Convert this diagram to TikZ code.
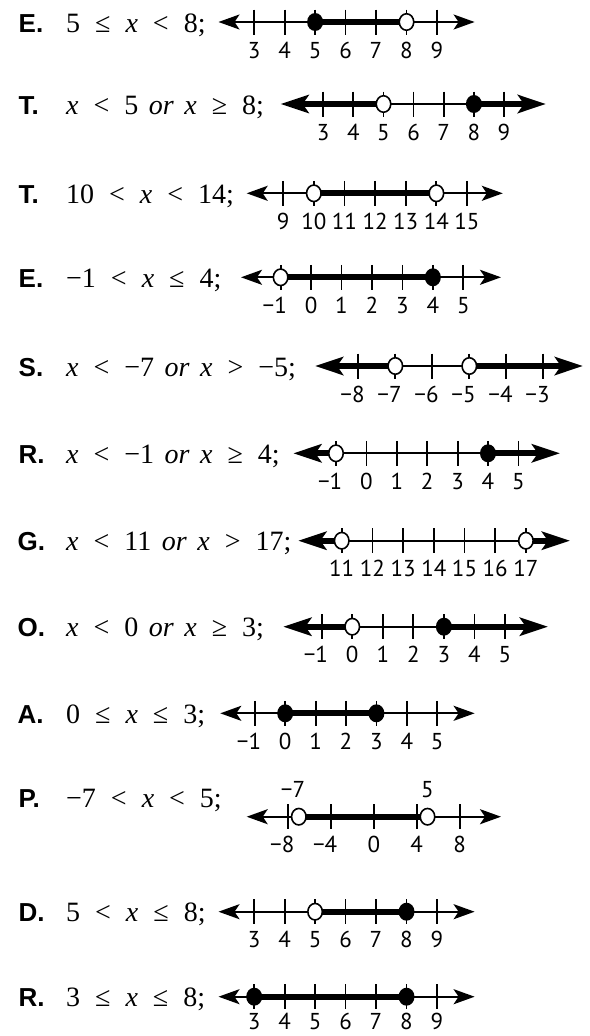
\documentclass[tikz,border=0pt]{standalone}
\usepackage{fontspec}
\setmainfont{Liberation Serif}
\newfontfamily\lblfont{Liberation Sans}
\newfontfamily\numfont{PT Sans}
\usetikzlibrary{arrows.meta,shapes.geometric}
\newcommand\gapA{\hspace{15pt}}
\newcommand\gapB{\hspace{10.5pt}}
\newcommand\mn[1]{\llap{−}#1}
\newcommand\drawticks[6]{%
  \foreach \lab [count=\k from 0] in {#4} {
    \draw[tickmark] ({#2+#3*\k},{#1-12.5}) -- ({#2+#3*\k},{#1+12.5});
    \node[ticklbl] (t#5-\k) at ({#2+#3*\k},{#1+#6}) {\lab};
  }}
\tikzset{
  letter/.style={anchor=base west, inner sep=0pt, font=\lblfont\bfseries\fontsize{26}{26}\selectfont},
  ineq/.style={anchor=base west, inner sep=0pt, font=\fontsize{28}{28}\selectfont},
  ticklbl/.style={anchor=base, inner sep=0pt, text depth=0pt, font=\numfont\fontsize{23}{23}\selectfont},
  tickmark/.style={line width=1.8pt},
  thinline/.style={line width=2pt},
  thickline/.style={line width=6pt},
  thinTip/.tip={Stealth[length=21pt,width=15pt,inset=5pt]},
  fatTip/.tip={Stealth[length=28pt,width=18pt,inset=6pt]},
  closeddot/.style={shape=ellipse, fill=black, inner sep=0pt, minimum width=16pt, minimum height=18pt},
  opendot/.style={shape=ellipse, fill=white, draw=black, line width=1.6pt, inner sep=0pt, minimum width=14.5pt, minimum height=16.5pt}
}
\begin{document}
\begin{tikzpicture}[x=1pt,y=-1pt]
\useasboundingbox (0,0) rectangle (589,1036);

% ---------- Row 1: E ----------
\node[letter] (l1) at (18.5,32) {E.};
\node[ineq] (q1) at (66,32) {5\gapA≤\gapA\textit{x}\gapA<\gapA8;};
\coordinate (r1L) at (218.5,22); \coordinate (r1R) at (474.6,22);
\coordinate (r1a) at (315.1,22); \coordinate (r1b) at (406.5,22);
\draw[thinline, thinTip-thinTip] (r1L) -- (r1R);
\drawticks{22}{254.2}{30.45}{3,4,5,6,7,8,9}{1}{36}
\draw[thickline] (r1a) -- (r1b);
\node[closeddot] (d1a) at (r1a) {};
\node[opendot] (d1b) at (r1b) {};

% ---------- Row 2: T ----------
\node[letter] (l2) at (18.5,114) {T.};
\node[ineq] (q2) at (66,114) {\textit{x}\gapA<\gapA5\gapB\textit{or}\gapB\textit{x}\gapA≥\gapA8;};
\coordinate (r2L) at (280.6,104); \coordinate (r2R) at (546,104);
\coordinate (r2a) at (383.5,104); \coordinate (r2b) at (473.9,104);
\draw[thinline] (r2a) -- (r2b);
\drawticks{104}{323.2}{30.13}{3,4,5,6,7,8,9}{2}{36}
\draw[thickline, -fatTip] (r2a) -- (r2L);
\draw[thickline, -fatTip] (r2b) -- (r2R);
\node[opendot] (d2a) at (r2a) {};
\node[closeddot] (d2b) at (r2b) {};

% ---------- Row 3: T ----------
\node[letter] (l3) at (18.5,203.3) {T.};
\node[ineq] (q3) at (66,203.3) {10\gapA<\gapA\textit{x}\gapA<\gapA14;};
\coordinate (r3L) at (246.7,193.3); \coordinate (r3R) at (502.8,193.3);
\coordinate (r3a) at (313.8,193.3); \coordinate (r3b) at (436.4,193.3);
\draw[thinline, thinTip-thinTip] (r3L) -- (r3R);
\drawticks{193.3}{283.2}{30.63}{9,10,11,12,13,14,15}{3}{36}
\draw[thickline] (r3a) -- (r3b);
\node[opendot] (d3a) at (r3a) {};
\node[opendot] (d3b) at (r3b) {};

% ---------- Row 4: E ----------
\node[letter] (l4) at (18.5,287.3) {E.};
\node[ineq] (q4) at (66,287.3) {−1\gapA<\gapA\textit{x}\gapA≤\gapA4;};
\coordinate (r4L) at (241,277.3); \coordinate (r4R) at (501,277.3);
\coordinate (r4a) at (280.6,277.3); \coordinate (r4b) at (432.85,277.3);
\draw[thinline, thinTip-thinTip] (r4L) -- (r4R);
\drawticks{277.3}{280.6}{30.45}{{\mn{1}},0,1,2,3,4,5}{4}{36}
\draw[thickline] (r4a) -- (r4b);
\node[opendot] (d4a) at (r4a) {};
\node[closeddot] (d4b) at (r4b) {};

% ---------- Row 5: S ----------
\node[letter] (l5) at (18.5,376) {S.};
\node[ineq] (q5) at (66,376) {\textit{x}\gapA<\gapA−7\gapB\textit{or}\gapB\textit{x}\gapA>\gapA−5;};
\coordinate (r5L) at (315,366); \coordinate (r5R) at (583,366);
\coordinate (r5a) at (395.3,366); \coordinate (r5b) at (469.3,366);
\draw[thinline] (r5a) -- (r5b);
\drawticks{366}{358.3}{37}{{\mn{8}},{\mn{7}},{\mn{6}},{\mn{5}},{\mn{4}},{\mn{3}}}{5}{36}
\draw[thickline, -fatTip] (r5a) -- (r5L);
\draw[thickline, -fatTip] (r5b) -- (r5R);
\node[opendot] (d5a) at (r5a) {};
\node[opendot] (d5b) at (r5b) {};

% ---------- Row 6: R ----------
\node[letter] (l6) at (18.5,463.3) {R.};
\node[ineq] (q6) at (66,463.3) {\textit{x}\gapA<\gapA−1\gapB\textit{or}\gapB\textit{x}\gapA≥\gapA4;};
\coordinate (r6L) at (293.3,453.3); \coordinate (r6R) at (560,453.3);
\coordinate (r6a) at (336,453.3); \coordinate (r6b) at (488,453.3);
\draw[thinline] (r6a) -- (r6b);
\drawticks{453.3}{336}{30.4}{{\mn{1}},0,1,2,3,4,5}{6}{36}
\draw[thickline, -fatTip] (r6a) -- (r6L);
\draw[thickline, -fatTip] (r6b) -- (r6R);
\node[opendot] (d6a) at (r6a) {};
\node[closeddot] (d6b) at (r6b) {};

% ---------- Row 7: G ----------
\node[letter] (l7) at (17.5,550.7) {G.};
\node[ineq] (q7) at (66,550.7) {\textit{x}\gapA<\gapA11\gapB\textit{or}\gapB\textit{x}\gapA>\gapA17;};
\coordinate (r7L) at (298.3,540.7); \coordinate (r7R) at (570,540.7);
\coordinate (r7a) at (341.7,540.7); \coordinate (r7b) at (525.9,540.7);
\draw[thinline] (r7a) -- (r7b);
\drawticks{540.7}{341.7}{30.7}{11,12,13,14,15,16,17}{7}{36}
\draw[thickline, -fatTip] (r7a) -- (r7L);
\draw[thickline, -fatTip] (r7b) -- (r7R);
\node[opendot] (d7a) at (r7a) {};
\node[opendot] (d7b) at (r7b) {};

% ---------- Row 8: O ----------
\node[letter] (l8) at (17.5,636.7) {O.};
\node[ineq] (q8) at (66,636.7) {\textit{x}\gapA<\gapA0\gapB\textit{or}\gapB\textit{x}\gapA≥\gapA3;};
\coordinate (r8L) at (283.3,626.7); \coordinate (r8R) at (548,626.7);
\coordinate (r8a) at (352.25,626.7); \coordinate (r8b) at (443.9,626.7);
\draw[thinline] (r8a) -- (r8b);
\drawticks{626.7}{321.7}{30.55}{{\mn{1}},0,1,2,3,4,5}{8}{36}
\draw[thickline, -fatTip] (r8a) -- (r8L);
\draw[thickline, -fatTip] (r8b) -- (r8R);
\node[opendot] (d8a) at (r8a) {};
\node[closeddot] (d8b) at (r8b) {};

% ---------- Row 9: A ----------
\node[letter] (l9) at (17.5,723.3) {A.};
\node[ineq] (q9) at (66,723.3) {0\gapA≤\gapA\textit{x}\gapA≤\gapA3;};
\coordinate (r9L) at (220.3,713.3); \coordinate (r9R) at (474.6,713.3);
\coordinate (r9a) at (285.2,713.3); \coordinate (r9b) at (376.4,713.3);
\draw[thinline, thinTip-thinTip] (r9L) -- (r9R);
\drawticks{713.3}{254.8}{30.4}{{\mn{1}},0,1,2,3,4,5}{9}{36}
\draw[thickline] (r9a) -- (r9b);
\node[closeddot] (d9a) at (r9a) {};
\node[closeddot] (d9b) at (r9b) {};

% ---------- Row 10: P ----------
\node[letter] (l10) at (18.5,807.7) {P.};
\node[ineq] (q10) at (66,807.7) {−7\gapA<\gapA\textit{x}\gapA<\gapA5;};
\coordinate (r10L) at (246.7,816.7); \coordinate (r10R) at (501,816.7);
\coordinate (r10a) at (298.8,816.7); \coordinate (r10b) at (427.5,816.7);
\draw[thinline, thinTip-thinTip] (r10L) -- (r10R);
\drawticks{816.7}{288.1}{42.88}{{\mn{8}},{\mn{4}},0,4,8}{10}{36}
\draw[thickline] (r10a) -- (r10b);
\node[opendot] (d10a) at (r10a) {};
\node[opendot] (d10b) at (r10b) {};
\node[ticklbl] (p10a) at (298.8,797) {\mn{7}};
\node[ticklbl] (p10b) at (427.5,797) {5};

% ---------- Row 11: D ----------
\node[letter] (l11) at (18.5,921.2) {D.};
\node[ineq] (q11) at (66,921.2) {5\gapA<\gapA\textit{x}\gapA≤\gapA8;};
\coordinate (r11L) at (218.5,911.7); \coordinate (r11R) at (474.6,911.7);
\coordinate (r11a) at (315.1,911.7); \coordinate (r11b) at (406.5,911.7);
\draw[thinline, thinTip-thinTip] (r11L) -- (r11R);
\drawticks{911.7}{254.2}{30.45}{3,4,5,6,7,8,9}{11}{36}
\draw[thickline] (r11a) -- (r11b);
\node[opendot] (d11a) at (r11a) {};
\node[closeddot] (d11b) at (r11b) {};

% ---------- Row 12: R ----------
\node[letter] (l12) at (18.5,1006.2) {R.};
\node[ineq] (q12) at (66,1006.2) {3\gapA≤\gapA\textit{x}\gapA≤\gapA8;};
\coordinate (r12L) at (218.5,996.7); \coordinate (r12R) at (474.6,996.7);
\coordinate (r12a) at (254.2,996.7); \coordinate (r12b) at (406.5,996.7);
\draw[thinline, thinTip-thinTip] (r12L) -- (r12R);
\drawticks{996.7}{254.2}{30.45}{3,4,5,6,7,8,9}{12}{32.3}
\draw[thickline] (r12a) -- (r12b);
\node[closeddot] (d12a) at (r12a) {};
\node[closeddot] (d12b) at (r12b) {};
\end{tikzpicture}
\end{document}
